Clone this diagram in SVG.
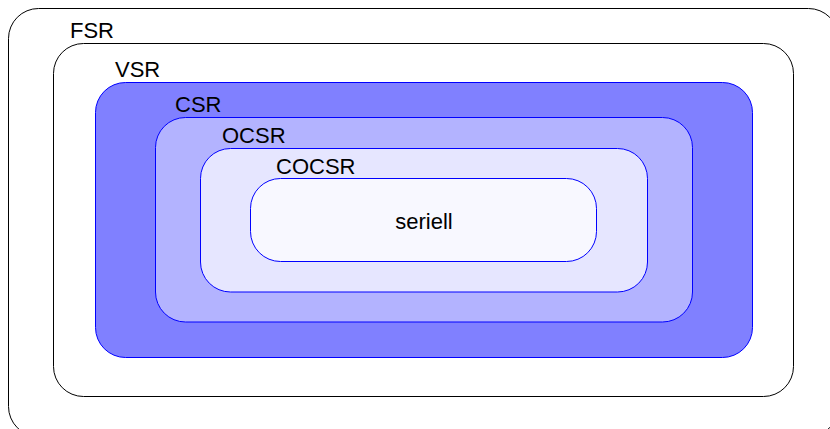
<svg xmlns="http://www.w3.org/2000/svg" width="830" height="429" viewBox="0 0 830 429">
<style>
.lbl{font-family:"Liberation Sans",Arial,sans-serif;font-size:22px;fill:#000}
.outer{fill:#fff;stroke:#000;stroke-width:1}
.inner{stroke:#0000ff;stroke-width:1}
</style>
<rect width="830" height="429" fill="#fff"/>
<g id="FSR"><rect class="outer" x="8.5" y="8.5" width="830" height="428" rx="30"/><text class="lbl" x="70" y="37.5">FSR</text></g>
<g id="VSR"><rect class="outer" x="53.5" y="43.5" width="740" height="353" rx="30"/><text class="lbl" x="115" y="76.5">VSR</text></g>
<g id="CSR"><rect class="inner" fill="#8080ff" x="95.5" y="82.5" width="657" height="275" rx="30"/><text class="lbl" x="175" y="111.5">CSR</text></g>
<g id="OCSR"><rect class="inner" fill="#b3b3ff" x="155.5" y="117.5" width="537" height="204.5" rx="30"/><text class="lbl" x="222" y="143">OCSR</text></g>
<g id="COCSR"><rect class="inner" fill="#e6e6ff" x="200.5" y="148.5" width="447" height="143.5" rx="30"/><text class="lbl" x="276" y="174">COCSR</text></g>
<g id="seriell"><rect class="inner" fill="#f8f8ff" x="250.5" y="178.5" width="346" height="83" rx="30"/><text class="lbl" x="424" y="229" text-anchor="middle">seriell</text></g>
<g id="connectors"></g>
</svg>
